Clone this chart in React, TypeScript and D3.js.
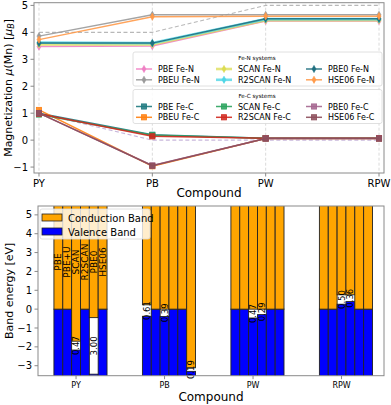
import React from 'react';
import * as d3 from 'd3';

// compounds on the x axis of both panels
const compounds = ['PY', 'PB', 'PW', 'RPW'];

// magnetisation of Mn, Fe-N systems
const pbeFeN = [3.47, 3.49, 4.42, 4.42];
const pbeuFeN = [3.86, 4.65, 4.65, 4.65];
const scanFeN = [3.55, 3.55, 4.45, 4.45];
const r2scanFeN = [3.62, 3.6, 4.49, 4.49];
const pbe0FeN = [3.6, 3.6, 4.5, 4.5];
const hse06FeN = [3.73, 4.58, 4.6, 4.6];

// magnetisation of Mn, Fe-C systems
const pbeFeC = [1.0, 0.2, 0.07, 0.07];
const pbeuFeC = [1.12, -0.97, 0.06, 0.06];
const scanFeC = [0.95, 0.18, 0.07, 0.07];
const r2scanFeC = [0.98, 0.14, 0.07, 0.07];
const pbe0FeC = [1.0, -0.94, 0.06, 0.06];
const hse06FeC = [1.0, -0.95, 0.06, 0.06];

// dashed reference lines
const refFeN = [4, 4, 5, 5];
const refFeC = [1, 0, 0, 0];

const magTicks = [-1, 0, 1, 2, 3, 4, 5];

// band edges per method (rows) and compound (columns)
const methods = ['PBE', 'PBE+U', 'SCAN', 'R2SCAN', 'PBE0', 'HSE06'];
const vbm = [
  [0, -0.38, 0, 0],
  [0, 0, 0, 0],
  [-2.17, -0.39, -0.47, 0.26],
  [0, 0, -0.29, 0.4],
  [-3.45, 0, 0, 0],
  [0, -3.3, 0, 0],
];
const gaps = [
  [0, 0.61, 0, 0],
  [0, 0, 0, 0],
  [0.47, 0.39, 0.47, 0.5],
  [0, 0, 0.29, 0.36],
  [3.0, 0, 0, 0],
  [0, 0.19, 0, 0],
];
const bandTicks = [-3, -2, -1, 0, 1, 2, 3, 4, 5];

const FONT = 'DejaVu Sans';
const W = 391;
const H = 405;

type Series = { label: string; values: number[]; color: string; width?: number; opacity?: number };

const feN: Series[] = [
  { label: 'PBE Fe-N', values: pbeFeN, color: '#ef7fc4' },
  { label: 'PBEU Fe-N', values: pbeuFeN, color: '#9a9a9a' },
  { label: 'SCAN Fe-N', values: scanFeN, color: '#dcdc50', width: 2.6, opacity: 0.75 },
  { label: 'R2SCAN Fe-N', values: r2scanFeN, color: '#4fd6e6', width: 2.6, opacity: 0.8 },
  { label: 'PBE0 Fe-N', values: pbe0FeN, color: '#1f6f7f' },
  { label: 'HSE06 Fe-N', values: hse06FeN, color: '#ff9a4a' },
];
const feC: Series[] = [
  { label: 'PBE Fe-C', values: pbeFeC, color: '#1f7a80' },
  { label: 'PBEU Fe-C', values: pbeuFeC, color: '#ff7f0e' },
  { label: 'SCAN Fe-C', values: scanFeC, color: '#2ca35e' },
  { label: 'R2SCAN Fe-C', values: r2scanFeC, color: '#d0281e' },
  { label: 'PBE0 Fe-C', values: pbe0FeC, color: '#a4668f' },
  { label: 'HSE06 Fe-C', values: hse06FeC, color: '#8c4d5a' },
];

const diamond = 'M0,-3.6L2,0L0,3.6L-2,0Z';

const Marker = ({ kind, color, x, y }: { kind: 'd' | 's'; color: string; x: number; y: number }) =>
  kind === 'd' ? (
    <path d={diamond} transform={`translate(${x},${y})`} fill={color} stroke={color} strokeWidth={0.6} />
  ) : (
    <rect x={x - 2.6} y={y - 2.6} width={5.2} height={5.2} fill={color} fillOpacity={0.85} stroke={color} strokeWidth={0.8} />
  );

const Legend = ({ title, series, top, kind }: { title: string; series: Series[]; top: number; kind: 'd' | 's' }) => {
  const cols = [136, 216, 306];
  return (
    <g>
      <rect x={133} y={top} width={249} height={34} rx={2} fill="#fff" fillOpacity={0.85} stroke="#d8d8d8" strokeWidth={0.8} />
      <text x={257} y={top + 8} fontSize={5.6} textAnchor="middle" fontFamily={FONT}>{title}</text>
      {series.map((s, i) => {
        const cx = cols[Math.floor(i / 2)];
        const cy = top + 17 + (i % 2) * 10.8;
        return (
          <g key={s.label}>
            <line x1={cx} x2={cx + 16} y1={cy} y2={cy} stroke={s.color} strokeWidth={s.width ?? 1.5} strokeOpacity={s.opacity ?? 0.9} />
            <Marker kind={kind} color={s.color} x={cx + 8} y={cy} />
            <text x={cx + 22} y={cy + 3} fontSize={8} fontFamily={FONT}>{s.label}</text>
          </g>
        );
      })}
    </g>
  );
};

const App = () => {
  // top panel
  const L1 = 34, R1 = 384, T1 = 2.7, B1 = 173;
  const x1 = d3.scaleLinear().domain([-0.044, 3.044]).range([L1, R1]);
  const y1 = d3.scaleLinear().domain([-1.22, 5.1]).range([B1, T1]);
  const line1 = d3.line<number>().x((_, i) => x1(i)).y((d) => y1(d));

  // bottom panel
  const L2 = 38, R2 = 384, T2 = 206, B2 = 375.7;
  const x2 = d3.scaleLinear().domain([-0.43, 3.48]).range([L2, R2]);
  const y2 = d3.scaleLinear().domain([-3.53, 5.47]).range([B2, T2]);
  const barW = 0.1;
  const bw = x2(barW) - x2(0);
  const barX = (ci: number, mi: number) => x2(ci + (mi - 2.5) * barW);

  const spine = '#8a8a8a';

  return (
    <svg width={W} height={H} style={{ position: 'absolute', left: 0, top: 0 }} fontFamily={FONT}>
      <rect width={W} height={H} fill="#fff" />
      <defs>
        <clipPath id="clip1"><rect x={L1} y={T1} width={R1 - L1} height={B1 - T1} /></clipPath>
        <clipPath id="clip2"><rect x={L2} y={T2} width={R2 - L2} height={B2 - T2} /></clipPath>
      </defs>

      {/* ---------- magnetisation panel ---------- */}
      <g clipPath="url(#clip1)">
        {compounds.map((c, i) => (
          <line key={c} x1={x1(i)} x2={x1(i)} y1={T1} y2={B1} stroke="#d0d0d0" strokeWidth={0.8} strokeDasharray="3,2" />
        ))}
        <path d={line1(refFeN) ?? ''} fill="none" stroke="#b8b8b8" strokeWidth={1.1} strokeDasharray="4,2.5" />
        <path d={line1(refFeC) ?? ''} fill="none" stroke="#c9b8dc" strokeWidth={1.1} strokeDasharray="4,2.5" />
        {feN.map((s) => (
          <g key={s.label}>
            <path d={line1(s.values) ?? ''} fill="none" stroke={s.color} strokeWidth={s.width ?? 1.5} strokeOpacity={s.opacity ?? 0.9} />
            {s.values.map((v, i) => <Marker key={i} kind="d" color={s.color} x={x1(i)} y={y1(v)} />)}
          </g>
        ))}
        {feC.map((s) => (
          <g key={s.label}>
            <path d={line1(s.values) ?? ''} fill="none" stroke={s.color} strokeWidth={1.5} strokeOpacity={0.9} />
            {s.values.map((v, i) => <Marker key={i} kind="s" color={s.color} x={x1(i)} y={y1(v)} />)}
          </g>
        ))}
      </g>
      <rect x={L1} y={T1} width={R1 - L1} height={B1 - T1} fill="none" stroke={spine} strokeWidth={1} />
      {magTicks.map((t) => (
        <g key={t}>
          <line x1={L1 - 3.5} x2={L1} y1={y1(t)} y2={y1(t)} stroke={spine} />
          <text x={L1 - 6} y={y1(t) + 3.6} fontSize={10} textAnchor="end">{t < 0 ? `\u2212${-t}` : t}</text>
        </g>
      ))}
      {compounds.map((c, i) => (
        <g key={c}>
          <line x1={x1(i)} x2={x1(i)} y1={B1} y2={B1 + 3.5} stroke={spine} />
          <text x={x1(i)} y={B1 + 13.5} fontSize={10} textAnchor="middle">{c}</text>
        </g>
      ))}
      <text x={(L1 + R1) / 2} y={197} fontSize={12} textAnchor="middle">Compound</text>
      <text transform={`translate(12,${(T1 + B1) / 2}) rotate(-90)`} fontSize={11} textAnchor="middle">
        Magnetization <tspan fontStyle="italic">μ</tspan>(Mn) [<tspan fontStyle="italic">μ</tspan>
        <tspan fontStyle="italic" fontSize={8} dy={2}>B</tspan><tspan dy={-2}>]</tspan>
      </text>
      <Legend title="Fe-N systems" series={feN} top={52} kind="d" />
      <Legend title="Fe-C systems" series={feC} top={89.5} kind="s" />

      {/* ---------- band panel ---------- */}
      <g clipPath="url(#clip2)">
        {compounds.map((c, ci) =>
          methods.map((m, mi) => {
            const vb = vbm[mi][ci];
            const cb = vb + gaps[mi][ci];
            return (
              <g key={`${c}-${m}`}>
                <rect x={barX(ci, mi)} width={bw} y={y2(vb)} height={y2(-10) - y2(vb)} fill="#0000ff" stroke="#222" strokeWidth={0.9} />
                <rect x={barX(ci, mi)} width={bw} y={y2(10)} height={y2(cb) - y2(10)} fill="#ffa500" stroke="#222" strokeWidth={0.9} />
              </g>
            );
          })
        )}
      </g>
      {methods.map((m, mi) => (
        <text key={m} transform={`translate(${barX(0, mi) + bw / 2},${y2(2.5)}) rotate(-90)`} fontSize={9} textAnchor="middle" dominantBaseline="central">{m}</text>
      ))}
      {compounds.map((c, ci) =>
        methods.map((m, mi) => {
          const g = gaps[mi][ci];
          if (g <= 0) return null;
          const mid = vbm[mi][ci] + g / 2;
          return (
            <text key={`${c}-${m}-gap`} transform={`translate(${barX(ci, mi) + bw / 2},${y2(mid)}) rotate(-90)`} fontSize={8.5} textAnchor="middle" dominantBaseline="central">
              {g.toFixed(2)}
            </text>
          );
        })
      )}
      <rect x={L2} y={T2} width={R2 - L2} height={B2 - T2} fill="none" stroke={spine} strokeWidth={1} />
      {bandTicks.map((t) => (
        <g key={t}>
          <line x1={L2 - 3.5} x2={L2} y1={y2(t)} y2={y2(t)} stroke={spine} />
          <text x={L2 - 6} y={y2(t) + 3.6} fontSize={10} textAnchor="end">{t < 0 ? `\u2212${-t}` : t}</text>
        </g>
      ))}
      {compounds.map((c, i) => (
        <g key={c}>
          <line x1={x2(i)} x2={x2(i)} y1={B2} y2={B2 + 3.5} stroke={spine} />
          <text x={x2(i)} y={B2 + 12} fontSize={8} textAnchor="middle">{c}</text>
        </g>
      ))}
      <text x={(L2 + R2) / 2} y={401} fontSize={12} textAnchor="middle">Compound</text>
      <text transform={`translate(13,${(T2 + B2) / 2}) rotate(-90)`} fontSize={11} textAnchor="middle">Band energy [eV]</text>

      {/* band legend */}
      <g>
        <rect x={40} y={209} width={110} height={30} rx={2} fill="#fff" fillOpacity={0.8} stroke="#d8d8d8" strokeWidth={0.8} />
        <rect x={42} y={214} width={20} height={7} fill="#ffa500" stroke="#222" strokeWidth={0.8} />
        <text x={68} y={221.5} fontSize={10}>Conduction Band</text>
        <rect x={42} y={228} width={20} height={7} fill="#0000ff" stroke="#222" strokeWidth={0.8} />
        <text x={68} y={235.5} fontSize={10}>Valence Band</text>
      </g>
    </svg>
  );
};

export default App;
